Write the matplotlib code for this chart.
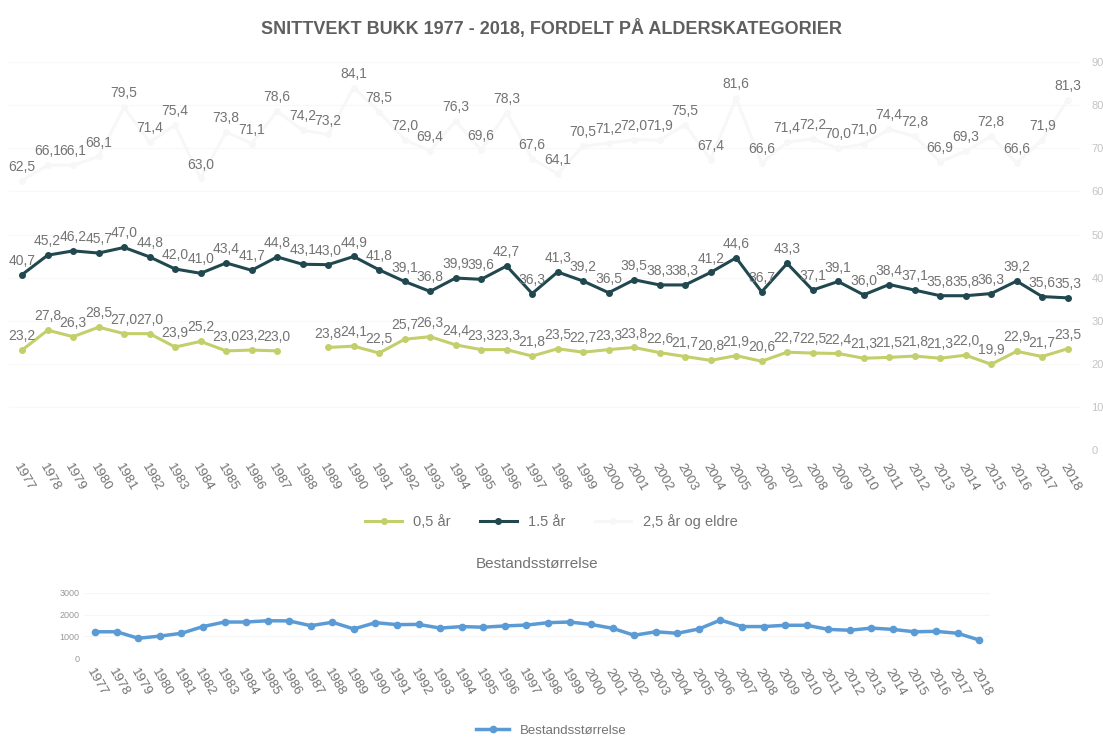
import matplotlib.pyplot as plt
import numpy as np

plt.rcParams['font.family'] = ['Liberation Sans', 'DejaVu Sans']

years = list(range(1977, 2019))

# snittvekt per alderskategori (kg)
kalv_05 = [23.2, 27.8, 26.3, 28.5, 27.0, 27.0, 23.9, 25.2, 23.0, 23.2, 23.0, np.nan,
           23.8, 24.1, 22.5, 25.7, 26.3, 24.4, 23.3, 23.3, 21.8, 23.5, 22.7, 23.3,
           23.8, 22.6, 21.7, 20.8, 21.9, 20.6, 22.7, 22.5, 22.4, 21.3, 21.5, 21.8,
           21.3, 22.0, 19.9, 22.9, 21.7, 23.5]
aar_15 = [40.7, 45.2, 46.2, 45.7, 47.0, 44.8, 42.0, 41.0, 43.4, 41.7, 44.8, 43.1,
          43.0, 44.9, 41.8, 39.1, 36.8, 39.9, 39.6, 42.7, 36.3, 41.3, 39.2, 36.5,
          39.5, 38.3, 38.3, 41.2, 44.6, 36.7, 43.3, 37.1, 39.1, 36.0, 38.4, 37.1,
          35.8, 35.8, 36.3, 39.2, 35.6, 35.3]
aar_25 = [62.5, 66.1, 66.1, 68.1, 79.5, 71.4, 75.4, 63.0, 73.8, 71.1, 78.6, 74.2,
          73.2, 84.1, 78.5, 72.0, 69.4, 76.3, 69.6, 78.3, 67.6, 64.1, 70.5, 71.2,
          72.0, 71.9, 75.5, 67.4, 81.6, 66.6, 71.4, 72.2, 70.0, 71.0, 74.4, 72.8,
          66.9, 69.3, 72.8, 66.6, 71.9, 81.3]

# bestandsstørrelse (anslått fra figuren)
bestand = [1210, 1210, 910, 1010, 1140, 1450, 1660, 1660, 1720, 1710, 1490, 1650,
           1340, 1630, 1540, 1550, 1380, 1450, 1420, 1480, 1520, 1630, 1660, 1550,
           1370, 1050, 1210, 1140, 1340, 1750, 1450, 1450, 1510, 1510, 1320, 1280,
           1380, 1320, 1210, 1230, 1140, 830]

grey = "#737373"
x = np.arange(len(years))

fig = plt.figure(figsize=(11.03, 7.39), dpi=100)
fig.text(0.5, 0.962, "SNITTVEKT BUKK 1977 - 2018, FORDELT PÅ ALDERSKATEGORIER",
         ha="center", va="center", fontsize=13, fontweight="bold", color="#5f5f5f")

# --- top chart ---
ax = fig.add_axes([0.0085, 0.391, 0.971, 0.525])
ax.plot(x, kalv_05, color="#c3cf6b", lw=2.2, marker="o", ms=4, label="0,5 år")
ax.plot(x, aar_15, color="#21484f", lw=2.2, marker="o", ms=4, label="1.5 år")
ax.plot(x, aar_25, color="#f7f7f7", lw=2.2, marker="o", ms=4, label="2,5 år og eldre")

for serie in (kalv_05, aar_15, aar_25):
    for i, v in enumerate(serie):
        if np.isnan(v):
            continue
        ax.annotate(f"{v:.1f}".replace(".", ","), (x[i], v), xytext=(0, 5),
                    textcoords="offset points", ha="center", va="bottom",
                    fontsize=10, color=grey)

ax.set_xlim(-0.5, len(years) - 0.5)
ax.set_ylim(0, 90)
ax.set_yticks(range(0, 91, 10))
ax.yaxis.tick_right()
ax.tick_params(axis="y", length=0, labelsize=8, labelcolor="#c4c4c4", pad=8)
ax.set_xticks(x)
ax.set_xticklabels(years, rotation=-60, ha="left", rotation_mode="anchor",
                   fontsize=9.5, color=grey)
ax.tick_params(axis="x", length=0, pad=8)
ax.grid(axis="y", color="#f8f8f8", lw=0.8)
for s in ax.spines.values():
    s.set_visible(False)

fig.legend(loc="center", bbox_to_anchor=(0.5, 0.294), ncol=3, frameon=False,
           fontsize=10.5, labelcolor=grey, handlelength=2.5, columnspacing=2.0)

# --- bottom chart ---
ax2 = fig.add_axes([0.0765, 0.1096, 0.821, 0.088])
ax2.plot(x, bestand, color="#5b9bd5", lw=2.5, marker="o", ms=4.5, label="Bestandsstørrelse")
ax2.set_xlim(-0.5, len(years) - 0.5)
ax2.set_ylim(0, 3000)
ax2.set_yticks([0, 1000, 2000, 3000])
ax2.tick_params(axis="y", length=0, labelsize=6.5, labelcolor="#9a9a9a")
ax2.set_xticks(x)
ax2.set_xticklabels(years, rotation=-60, ha="left", rotation_mode="anchor",
                    fontsize=9.5, color=grey)
ax2.tick_params(axis="x", length=0, pad=6)
ax2.grid(axis="y", color="#f6f6f6", lw=0.8)
for s in ax2.spines.values():
    s.set_visible(False)
ax2.set_title("Bestandsstørrelse", fontsize=11, color=grey, pad=18)

fig.legend(handles=ax2.get_lines(), loc="center", bbox_to_anchor=(0.5, 0.011),
           frameon=False, fontsize=9.5, labelcolor=grey, handlelength=2.5)

fig.savefig("out.png", dpi=100)
